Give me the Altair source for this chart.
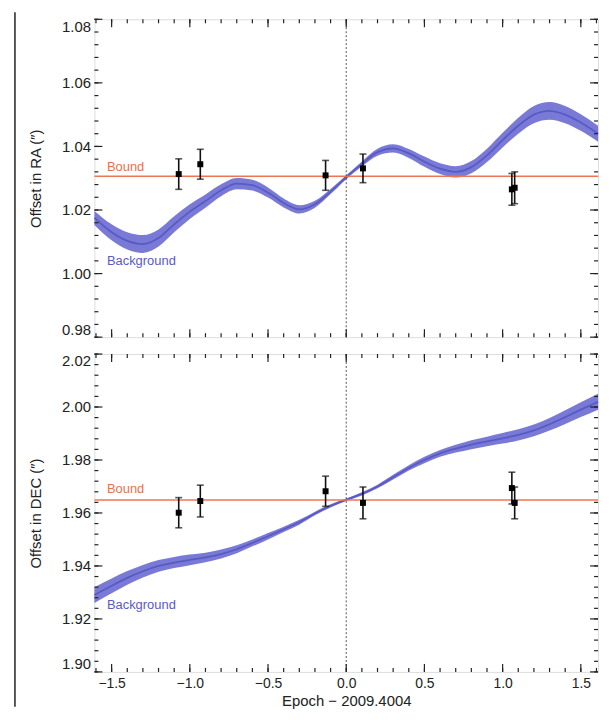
import altair as alt
import pandas as pd

# ---------------- data ----------------
epoch_grid = [-1.61, -1.50, -1.40, -1.30, -1.20, -1.10, -1.00, -0.90, -0.80, -0.70,
              -0.60, -0.50, -0.40, -0.30, -0.20, -0.10, 0.00, 0.10, 0.20, 0.30,
              0.40, 0.50, 0.60, 0.70, 0.80, 0.90, 1.00, 1.10, 1.20, 1.30,
              1.40, 1.50, 1.61]

ra_bg_center = [1.0175, 1.0130, 1.0103, 1.0093, 1.0112, 1.0155, 1.0195, 1.0228, 1.0262, 1.0283,
                1.0278, 1.0255, 1.0222, 1.0202, 1.0218, 1.0258, 1.0303, 1.0345, 1.0382, 1.0394,
                1.0378, 1.0352, 1.0330, 1.0320, 1.0335, 1.0372, 1.0420, 1.0465, 1.0500, 1.0512,
                1.0500, 1.0475, 1.0440]
ra_bg_half = [0.0022, 0.0025, 0.0027, 0.0028, 0.0027, 0.0025, 0.0023, 0.0021, 0.0019, 0.0018,
              0.0017, 0.0016, 0.0014, 0.0013, 0.0011, 0.0008, 0.0006, 0.0008, 0.0011, 0.0013,
              0.0014, 0.0016, 0.0017, 0.0018, 0.0019, 0.0021, 0.0023, 0.0025, 0.0027, 0.0028,
              0.0027, 0.0026, 0.0025]

dec_bg_center = [1.9290, 1.9325, 1.9355, 1.9380, 1.9400, 1.9413, 1.9423, 1.9432, 1.9445, 1.9463,
                 1.9487, 1.9512, 1.9538, 1.9565, 1.9598, 1.9627, 1.9650, 1.9672, 1.9700, 1.9735,
                 1.9770, 1.9800, 1.9825, 1.9843, 1.9858, 1.9870, 1.9882, 1.9895, 1.9912, 1.9935,
                 1.9962, 1.9990, 2.0020]
dec_bg_half = [0.0030, 0.0028, 0.0026, 0.0024, 0.0022, 0.0021, 0.0020, 0.0018, 0.0017, 0.0015,
               0.0013, 0.0012, 0.0010, 0.0009, 0.0007, 0.0006, 0.0005, 0.0006, 0.0007, 0.0009,
               0.0010, 0.0012, 0.0013, 0.0015, 0.0017, 0.0018, 0.0020, 0.0021, 0.0022, 0.0024,
               0.0026, 0.0028, 0.0030]

obs_epoch = [-1.071, -0.933, -0.132, 0.107, 1.059, 1.077]
ra_obs = [1.0313, 1.0344, 1.0309, 1.0331, 1.0265, 1.0270]
ra_err = [0.0048, 0.0047, 0.0047, 0.0045, 0.0050, 0.0050]
dec_obs = [1.9601, 1.9645, 1.9682, 1.9638, 1.9694, 1.9638]
dec_err = [0.0057, 0.0060, 0.0057, 0.0060, 0.0060, 0.0060]

ra_bound = [1.0306]
dec_bound = [1.9649]
zero_epoch = [0.0]

label_texts = ["Bound", "Background"]
label_colors = ["#e8704e", "#5a5ac8"]
label_epoch = [-1.53, -1.53]
ra_label_y = [1.0334, 1.0041]
dec_label_y = [1.9690, 1.9251]

x_major = [-1.5, -1.0, -0.5, 0.0, 0.5, 1.0, 1.5]
x_minor = [round(-1.6 + 0.1 * i, 1) for i in range(33)]
ra_major = [0.98, 1.00, 1.02, 1.04, 1.06, 1.08]
ra_minor = [round(0.98 + 0.004 * i, 3) for i in range(26)]
dec_major = [1.90, 1.92, 1.94, 1.96, 1.98, 2.00, 2.02]
dec_minor = [round(1.90 + 0.004 * i, 3) for i in range(31)]

X_DOMAIN = [-1.61, 1.61]
W, H = 507, 320
FONT = "Liberation Sans"
TXT = "#222222"


def panel(bg_c, bg_h, obs, err, bound, y_dom, y_major, y_minor, y_title, lab_y, bottom):
    bg = pd.DataFrame({
        "epoch": epoch_grid,
        "c": bg_c,
        "lo": [c - h for c, h in zip(bg_c, bg_h)],
        "hi": [c + h for c, h in zip(bg_c, bg_h)],
    })
    pts = pd.DataFrame({
        "epoch": obs_epoch,
        "v": obs,
        "lo": [v - e for v, e in zip(obs, err)],
        "hi": [v + e for v, e in zip(obs, err)],
    })
    caps = pd.DataFrame({"epoch": obs_epoch * 2,
                         "v": list(pts["lo"]) + list(pts["hi"])})
    labs = pd.DataFrame({"epoch": label_epoch, "v": lab_y,
                         "t": label_texts, "col": label_colors})

    xs = alt.Scale(domain=X_DOMAIN, nice=False, zero=False)
    ys = alt.Scale(domain=y_dom, nice=False, zero=False)
    if bottom:
        xaxis = alt.Axis(values=x_major, format=".1f", labels=True, ticks=False, tickSize=0,
                         domain=False, grid=False, labelFontSize=14, labelPadding=5,
                         titleFontSize=15, titlePadding=3, labelColor=TXT, titleColor=TXT,
                         titleFontWeight="normal", labelFont=FONT, titleFont=FONT)
        xtitle = "Epoch \u2212 2009.4004"
    else:
        xaxis = alt.Axis(values=x_major, labels=False, ticks=False, tickSize=0,
                         domain=False, grid=False)
        xtitle = None
    yaxis = alt.Axis(values=y_major, format=".2f", ticks=False, tickSize=0, domain=False,
                     grid=False, labelFontSize=15, labelPadding=4, labelFlush=True,
                     titleFontSize=15, titlePadding=18, labelColor=TXT, titleColor=TXT,
                     titleFontWeight="normal", labelFont=FONT, titleFont=FONT)

    def X(f):
        return alt.X(f, type="quantitative", scale=xs, axis=xaxis, title=xtitle)

    def Y(f):
        return alt.Y(f, type="quantitative", scale=ys, axis=yaxis, title=y_title)

    area = alt.Chart(bg).mark_area(interpolate="monotone", color="#7272d4", opacity=0.95).encode(
        x=X("epoch"), y=Y("lo"), y2="hi")
    line = alt.Chart(bg).mark_line(interpolate="monotone", color="#5a5ac6", strokeWidth=1.8).encode(
        x=X("epoch"), y=Y("c"))
    bnd = alt.Chart(pd.DataFrame({"v": bound})).mark_rule(color="#ef7452", strokeWidth=1.5).encode(
        y=Y("v"))
    zero = alt.Chart(pd.DataFrame({"epoch": zero_epoch})).mark_rule(
        color="#555555", strokeWidth=1, strokeDash=[2, 2]).encode(x=X("epoch"))
    ebar = alt.Chart(pts).mark_rule(color="#111111", strokeWidth=1.6).encode(
        x=X("epoch"), y=Y("lo"), y2="hi")
    ecap = alt.Chart(caps).mark_tick(color="#111111", orient="horizontal", size=7,
                                     thickness=1.6).encode(x=X("epoch"), y=Y("v"))
    pt = alt.Chart(pts).mark_point(shape="square", filled=True, size=36, color="#000000",
                                   opacity=1).encode(x=X("epoch"), y=Y("v"))
    txt = alt.Chart(labs).mark_text(align="left", baseline="middle", fontSize=13, font=FONT).encode(
        x=X("epoch"), y=Y("v"), text="t:N",
        color=alt.Color("col:N", scale=None))

    tk = "#222222"
    xmaj = pd.DataFrame({"epoch": x_major})
    xmin = pd.DataFrame({"epoch": x_minor})
    ymaj = pd.DataFrame({"v": y_major})
    ymin = pd.DataFrame({"v": y_minor})
    ticks = []
    for d, ln in ((xmaj, 8), (xmin, 4)):
        ticks.append(alt.Chart(d).mark_rule(color=tk, strokeWidth=1.2).encode(
            x=X("epoch"), y=alt.value(H), y2=alt.value(H - ln)))
        ticks.append(alt.Chart(d).mark_rule(color=tk, strokeWidth=1.2).encode(
            x=X("epoch"), y=alt.value(0), y2=alt.value(ln)))
    for d, ln in ((ymaj, 8), (ymin, 4)):
        ticks.append(alt.Chart(d).mark_rule(color=tk, strokeWidth=1.2).encode(
            y=Y("v"), x=alt.value(0), x2=alt.value(ln)))
        ticks.append(alt.Chart(d).mark_rule(color=tk, strokeWidth=1.2).encode(
            y=Y("v"), x=alt.value(W), x2=alt.value(W - ln)))

    layers = [area, line, bnd, zero, ebar, ecap, pt, txt] + ticks
    if not bottom:
        # thin page border line at the far left of the figure
        border = alt.Chart(pd.DataFrame({"k": [0]})).mark_rule(
            color="#222222", strokeWidth=1.5).encode(
            x=alt.value(-80), y=alt.value(-7), y2=alt.value(692))
        layers.append(border)
    return alt.layer(*layers).properties(width=W, height=H)


top = panel(ra_bg_center, ra_bg_half, ra_obs, ra_err, ra_bound, [0.98, 1.08],
            ra_major, ra_minor, "Offset in RA (\u2033)", ra_label_y, False)
bot = panel(dec_bg_center, dec_bg_half, dec_obs, dec_err, dec_bound, [1.90, 2.02],
            dec_major, dec_minor, "Offset in DEC (\u2033)", dec_label_y, True)

chart = alt.vconcat(top, bot, spacing=17, bounds="flush").properties(
    padding={"left": 5, "top": 0, "right": 0, "bottom": 0},
    background="white",
).configure_view(stroke="#222222", strokeWidth=1.5).configure(font=FONT)

chart.save("out.html", embed_options={"renderer": "svg", "actions": False})
